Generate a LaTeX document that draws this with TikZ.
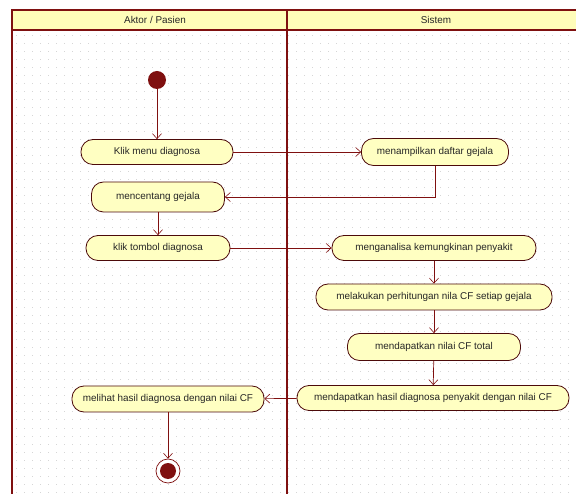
\documentclass[tikz,border=0pt]{standalone}
\usepackage{fontspec}
\setmainfont{Liberation Sans}
\usepackage{tikz}
\usetikzlibrary{arrows.meta}

\definecolor{lanered}{HTML}{7F1010}
\definecolor{actfill}{HTML}{FFFFC2}
\definecolor{headfill}{HTML}{FFFDB9}
\definecolor{dotgrey}{HTML}{D6D6D6}
\definecolor{txtgrey}{HTML}{262626}

\tikzset{
  action/.style={draw=lanered!60!black, fill=actfill, rounded corners=12pt,
    minimum height=25pt, inner sep=2pt, line width=0.8pt, text=txtgrey,
    font=\fontsize{9.9}{11}\selectfont},
  flow/.style={draw=lanered, line width=0.7pt,
    -{Straight Barb[length=5pt,width=9pt,line width=0.6pt]}},
  lanehead/.style={text=txtgrey, font=\fontsize{9.9}{11}\selectfont},
  gridrow/.style={dotgrey, line width=1pt, dash pattern=on 1pt off 7pt},
}

\begin{document}
\begin{tikzpicture}[x=1pt,y=-1pt]
        \useasboundingbox (0,0) rectangle (576,494);
        \fill[white] (0,0) rectangle (576,494);
        \foreach \y in {36,44,...,492}
          \draw[gridrow] (16,\y) -- (576,\y);
        \fill[headfill] (12,10) rectangle (576,30);
        \draw[lanered, line width=1.8pt] (576,10) -- (12,10) -- (12,494);
        \draw[lanered, line width=1.5pt] (12,30) -- (576,30);
        \draw[lanered, line width=2.6pt] (287,10) -- (287,494);
        \node[lanehead] (aktor) at (155,20) {Aktor / Pasien};
        \node[lanehead] (sistem) at (436,20) {Sistem};

        \node[circle, fill=lanered, minimum size=18pt, inner sep=0pt] (start) at (157,80) {};
        \node[action, minimum width=152pt] (klik) at (157,152) {Klik menu diagnosa};
        \node[action, minimum width=147pt, minimum height=27pt] (tampil) at (435,152) {menampilkan daftar gejala};
        \node[action, minimum width=133pt, minimum height=30pt] (centang) at (158,197) {mencentang gejala};
        \node[action, minimum width=144pt] (tombol) at (158,248) {klik tombol diagnosa};
        \node[action, minimum width=204pt] (analisa) at (434,248) {menganalisa kemungkinan penyakit};
        \node[action, minimum width=236pt, minimum height=26pt] (hitung) at (434,297) {melakukan perhitungan nila CF setiap gejala};
        \node[action, minimum width=173pt, minimum height=27pt] (total) at (434,347) {mendapatkan nilai CF total};
        \node[action, minimum width=272pt] (hasil) at (433,398) {mendapatkan hasil diagnosa penyakit dengan nilai CF};
        \node[action, minimum width=192pt, minimum height=26pt] (lihat) at (168,399) {melihat hasil diagnosa dengan nilai CF};
        \node[circle, draw=lanered, fill=white, line width=0.7pt, minimum size=24pt, inner sep=0pt,
          path picture={\fill[lanered] (path picture bounding box.center) circle (8pt);}] (end) at (168,471) {};

        \draw[flow] (start) -- (klik);
        \draw[flow] (klik) -- (tampil);
        \draw[flow] (tampil.south) |- (centang.east);
        \draw[flow] (centang) -- (tombol);
        \draw[flow] (tombol) -- (analisa);
        \draw[flow] (analisa) -- (hitung);
        \draw[flow] (hitung) -- (total);
        \draw[flow] (total) -- (hasil);
        \draw[flow] (hasil) -- (lihat);
        \draw[flow] (lihat) -- (end);
      \end{tikzpicture}
\end{document}
